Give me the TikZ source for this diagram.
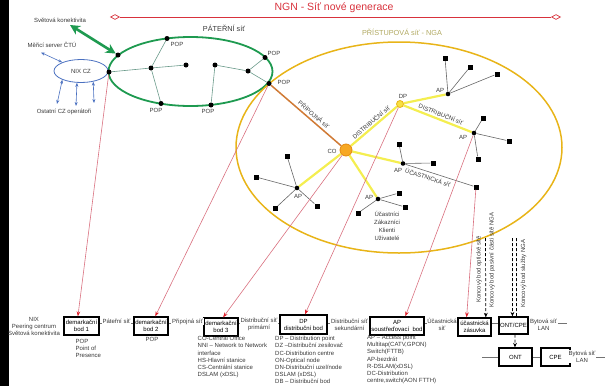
\documentclass[tikz,border=0pt]{standalone}
\usepackage{fontspec}
\setmainfont{Liberation Sans}
\usetikzlibrary{shapes.geometric,arrows.meta,calc,backgrounds}
\definecolor{ngnred}{HTML}{D8323C}
\definecolor{grn}{HTML}{1E9A50}
\definecolor{gold}{HTML}{E8B418}
\definecolor{yel}{HTML}{F4EE50}
\definecolor{brn}{HTML}{D07A35}
\definecolor{redl}{HTML}{D9707F}
\definecolor{redtip}{HTML}{E0202A}
\definecolor{tealg}{HTML}{6A9A8A}
\definecolor{bl}{HTML}{4A70C0}
\definecolor{olv}{HTML}{B0A860}
\definecolor{txtc}{HTML}{383838}
\definecolor{cofill}{HTML}{F7A823}
\definecolor{codraw}{HTML}{E58A10}
\definecolor{dpfill}{HTML}{F8E040}
\begin{document}
\begin{tikzpicture}[x=1pt,y=-1pt,
  txt/.style={font=\fontsize{6}{7.1}\selectfont, text=txtc, inner sep=0.5pt, align=center},
  ltxt/.style={font=\fontsize{6}{7.1}\selectfont, text=txtc, inner sep=0pt, align=left, anchor=west},
  wtxt/.style={txt, fill=white, inner sep=0.8pt},
  dot/.style={circle, fill=black, inner sep=0pt, minimum size=5pt},
  apdot/.style={circle, fill=black, inner sep=0pt, minimum size=4.6pt},
  sqr/.style={rectangle, fill=black, inner sep=0pt, minimum size=5pt},
  bbox/.style={draw=black, line width=1.3pt, fill=white, inner sep=0pt, align=center, font=\fontsize{6}{7}\selectfont, minimum height=18pt},
  pline/.style={draw=redl, line width=0.6pt, -{Stealth[length=5pt,width=3.6pt,color=redtip]}},
  gedge/.style={draw=tealg, line width=0.6pt},
  aedge/.style={draw=black!60, line width=0.6pt},
  yline/.style={draw=yel, line width=2.2pt},
  barrow/.style={draw=bl, line width=0.6pt, {Stealth[length=4pt,width=3pt]}-{Stealth[length=4pt,width=3pt]}},
  garrow/.style={draw=grn, line width=2.6pt, {Stealth[length=10pt,width=10pt]}-{Stealth[length=10pt,width=10pt]}},
  dline/.style={draw=black, line width=0.7pt, dash pattern=on 3pt off 2pt},
  dtip/.style={-{Stealth[length=4.5pt,width=3.8pt]}},
  diam/.style={diamond, draw=ngnred, fill=white, line width=0.7pt, minimum width=9pt, minimum height=5pt, inner sep=0pt},
]
\useasboundingbox (0,0) rectangle (605,386);
\fill[black] (0,0) rectangle (8.5,386);

% ---------- title ----------
\node[font=\fontsize{10.5}{12}\selectfont, text=ngnred, inner sep=0pt] (ttl) at (334,7.5) {NGN - Síť nové generace};
\node[diam] (dl) at (115,17) {};
\node[diam] (dr) at (556,17) {};
\draw[ngnred, line width=0.7pt] (dl) -- (dr);

\node[font=\fontsize{7.3}{8}\selectfont, text=txtc, inner sep=0pt] (pat) at (224,28) {PÁTEŘNÍ síť};
\node[font=\fontsize{7.3}{8}\selectfont, text=olv, inner sep=0pt] (pri) at (402,32) {PŘÍSTUPOVÁ síť - NGA};

% ---------- left: NIX ----------
\node[txt] (svk) at (60,20) {Světová konektivita};
\node[txt] (mer) at (52,45) {Měřicí server ČTÚ};
\node[txt] (ost) at (64,112) {Ostatní CZ operátoři};
\node[ellipse, draw=bl, line width=0.8pt, minimum width=54pt, minimum height=23pt, inner sep=0pt, txt] (nix) at (81,71) {NIX CZ};
\coordinate (m1) at (41,52.5);
\coordinate (o1) at (57,104);
\coordinate (o2) at (76,106);
\coordinate (o3) at (94,103);
\coordinate (sva) at (70,25);

% ---------- backbone nodes ----------
\node[dot] (G0) at (109,72) {};
\node[dot] (G1) at (118,55) {};
\node[dot] (P1) at (167,38.5) {};
\node[dot] (I1) at (151,68) {};
\node[dot] (I2) at (186,65) {};
\node[dot] (P2) at (161,103.5) {};
\node[dot] (P3) at (211,105) {};
\node[dot] (I3) at (215,65) {};
\node[dot] (I4) at (248,71) {};
\node[dot] (P4) at (265,57.5) {};
\node[dot] (P5) at (269,83.5) {};
\node[txt] (lp1) at (177,44) {POP};
\node[txt] (lp2) at (156,110) {POP};
\node[txt] (lp3) at (208,111.5) {POP};
\node[txt] (lp4) at (274,53) {POP};
\node[txt] (lp5) at (284,82) {POP};

% ---------- access nodes ----------
\node[circle, fill=cofill, draw=codraw, line width=0.8pt, minimum size=12pt, inner sep=0pt] (CO) at (346,150) {};
\node[txt] (lco) at (332,151) {CO};
\node[circle, fill=dpfill, draw=gold, line width=0.8pt, minimum size=7pt, inner sep=0pt] (DP) at (400,104) {};
\node[txt] (ldp) at (403,96) {DP};

\node[apdot] (A1) at (448,94) {};
\node[txt] (la1) at (440,90.5) {AP};
\node[sqr] (s11) at (445,58) {};
\node[sqr] (s12) at (470,67) {};
\node[sqr] (s13) at (497,74) {};

\node[apdot] (A2) at (474,133) {};
\node[txt] (la2) at (463,137) {AP};
\node[sqr] (s21) at (483,118) {};
\node[sqr] (s22) at (509,141) {};
\node[sqr] (s23) at (478,159) {};

\node[apdot] (A3) at (403,163.5) {};
\node[txt] (la3) at (398,170.5) {AP};
\node[sqr] (s31) at (399,144) {};
\node[sqr] (s32) at (433,163) {};
\node[sqr] (s33) at (476,187) {};

\node[apdot] (A4) at (378,199) {};
\node[txt] (la4) at (369,197) {AP};
\node[sqr] (s41) at (399,193) {};
\node[sqr] (s42) at (405,207) {};
\node[sqr] (s43) at (358,213) {};

\node[apdot] (A5) at (297,188) {};
\node[txt] (la5) at (298,196) {AP};
\node[sqr] (s51) at (287,156) {};
\node[sqr] (s52) at (256,177) {};
\node[sqr] (s53) at (275,208.5) {};
\node[sqr] (s54) at (317,206) {};

\node[txt, font=\fontsize{6}{8}\selectfont] (ucz) at (387,225.5) {Účastníci\\Zákazníci\\Klienti\\Uživatelé};

% line labels (rotated along their lines)
\node[txt, rotate=-40.8] (lpri) at (314,114.5) {PŘÍPOJNÁ síť};
\node[txt, rotate=40.4] (ldi1) at (371,122) {DISTRIBUČNÍ síť};
\node[txt, rotate=-21.4] (ldi2) at (441,114) {DISTRIBUČNÍ síť};
\node[txt, rotate=-17.8] (luc) at (428,177.5) {ÚČASTNICKÁ síť};

% ---------- bottom row ----------
\coordinate (hl) at (99,323.5);
\coordinate (hr) at (567,323.5);
\coordinate (ll) at (482,357);
\coordinate (lr) at (605,357);
\draw[black!55, line width=0.8pt] (hl) -- (hr);
\draw[black!55, line width=0.8pt] (ll) -- (lr);

\node[bbox, minimum width=35pt] (b1) at (81.5,326) {demarkační\\bod 1};
\node[bbox, minimum width=34pt] (b2) at (151,326) {demarkační\\bod 2};
\node[bbox, minimum width=34pt] (b3) at (221,327) {demarkační\\bod 3};
\node[bbox, minimum width=47pt, minimum height=19pt] (bdp) at (303.5,324.5) {DP\\distribuční bod};
\node[bbox, minimum width=54pt] (bap) at (397,326) {AP\\soustřeďovací\ \ bod};
\node[bbox, minimum width=33pt] (zas) at (474.5,327) {účastnická\\zásuvka};
\node[bbox, minimum width=29pt, minimum height=17pt] (oc) at (513.5,325.5) {ONT/CPE};
\node[bbox, minimum width=33pt] (ont) at (515.5,357) {ONT};
\node[bbox, minimum width=29pt] (cpe) at (555.5,357) {CPE};

\node[txt] (nixl) at (34,326.5) {NIX\\Peering centrum\\Světová konektivita};
\node[ltxt] (popl) at (75.5,348.5) {POP\\Point of\\Presence};
\node[txt] (pop2) at (152,339) {POP};
\node[wtxt] (pats) at (116.5,321.5) {Páteřní síť};
\node[wtxt] (prip) at (187.5,321.5) {Připojná síť};
\node[wtxt] (dpri) at (259,324.5) {Distribuční síť\\primární};
\node[wtxt] (dsek) at (349.5,324.5) {Distribuční síť\\sekundární};
\node[wtxt] (ucs) at (442,324.5) {Účastnická\\síť};
\node[wtxt] (byt1) at (543.5,324.5) {Bytová síť\\LAN};
\node[wtxt] (byt2) at (582,356.5) {Bytová síť\\LAN};

\node[ltxt] (l3) at (197.5,357) {CO-Central Office\\NNI -- Network to Network\\interface\\HS-Hlavní stanice\\CS-Centrální stanice\\DSLAM (xDSL)};
\node[ltxt] (ldpl) at (275,360) {DP -- Distribution point\\DZ --Distribuční zesilovač\\DC-Distribution centre\\ON-Optical node\\DN-Distribuční uzel/node\\DSLAM (xDSL)\\DB -- Distribuční bod};
\node[ltxt] (lapl) at (367,359.5) {AP -- Access point\\Multitap(CATV,GPON)\\Switch(FTTB)\\AP-bezdrát\\R-DSLAM(xDSL)\\DC-Distribution\\centre,switch(AON FTTH)};

\node[txt, rotate=90, anchor=west] (k1) at (479,303.5) {Koncový bod optické sítě};
\node[txt, rotate=90, anchor=west] (k2) at (492,308.5) {Koncový bod pasivní části sítě NGA};
\node[txt, rotate=90, anchor=west] (k3) at (523.5,308.5) {Koncový bod služby NGA};
\coordinate (d1) at (485.5,238);
\coordinate (d2) at (512.5,238);
\coordinate (d3) at (516.5,238);
\draw[dline, dtip] (d1) -- ($(zas.north west)!0.83!(zas.north east)$);
\draw[dline, dtip] (d2) -- ($(oc.north west)!0.465!(oc.north east)$);
\draw[dline] (d3) -- ($(oc.north west)!0.6!(oc.north east)$);
\draw[dline, dtip] ($(oc.south west)!0.55!(oc.south east)$) -- ($(ont.north west)!0.485!(ont.north east)$);

% ---------- connectors on the background ----------
\begin{pgfonlayer}{background}
  \draw[grn, line width=1.8pt] (190.5,71.5) ellipse [x radius=82pt, y radius=34.5pt];
  \draw[gold, line width=1.5pt] (399,147.5) ellipse [x radius=163pt, y radius=105.5pt];
  \draw[gedge] (G0) -- (I1);
  \draw[gedge] (I1) -- (P1);
  \draw[gedge] (I1) -- (I2);
  \draw[gedge] (I1) -- (P2);
  \draw[gedge] (I3) -- (P3);
  \draw[gedge] (I3) -- (I4);
  \draw[gedge] (I4) -- (P4);
  \draw[gedge] (I4) -- (P5);
  \draw[brn, line width=1.5pt] (P5) -- (CO);
  \draw[yline] (CO) -- (DP);
  \draw[yline] (DP) -- (A1);
  \draw[yline] (DP) -- (A2);
  \draw[yline] (CO) -- (A3);
  \draw[yline] (CO) -- (A4);
  \draw[yline] (CO) -- (A5);
  \foreach \s in {s11,s12,s13} \draw[aedge] (A1) -- (\s);
  \foreach \s in {s21,s22,s23} \draw[aedge] (A2) -- (\s);
  \foreach \s in {s31,s32,s33} \draw[aedge] (A3) -- (\s);
  \foreach \s in {s41,s42,s43} \draw[aedge] (A4) -- (\s);
  \foreach \s in {s51,s52,s53,s54} \draw[aedge] (A5) -- (\s);
\end{pgfonlayer}

\draw[garrow] (sva) -- (G1);
\draw[barrow] (m1) -- (nix);
\draw[barrow] (nix.205) -- (o1);
\draw[barrow] (nix.251) -- (o2);
\draw[barrow] (nix.319) -- (o3);

\draw[pline] (G0) -- ($(b1.north west)!0.4!(b1.north east)$);
\draw[pline] (P5) -- ($(b2.north west)!0.62!(b2.north east)$);
\draw[pline] (CO) -- ($(b3.north west)!0.56!(b3.north east)$);
\draw[pline] (DP) -- ($(bdp.north west)!0.53!(bdp.north east)$);
\draw[pline] (A2) -- ($(bap.north west)!0.65!(bap.north east)$);
\draw[pline] (s33) -- ($(zas.north west)!0.27!(zas.north east)$);
\end{tikzpicture}
\end{document}
